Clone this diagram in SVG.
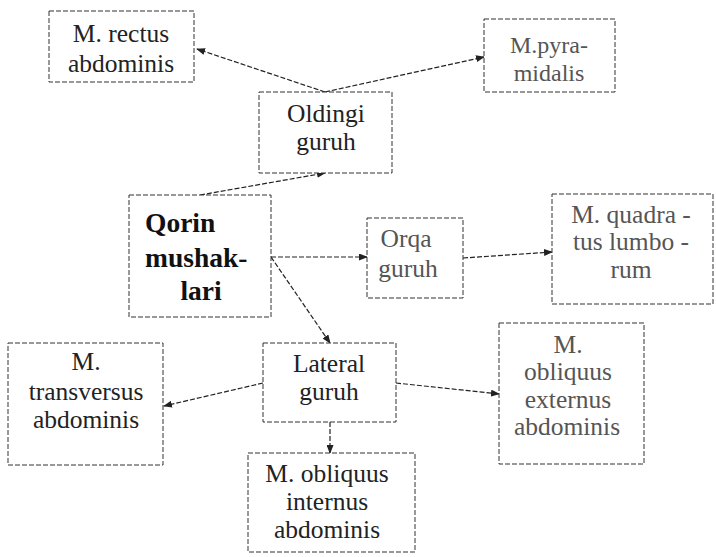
<svg xmlns="http://www.w3.org/2000/svg" width="716" height="557" viewBox="0 0 716 557" font-family="'Liberation Serif', 'DejaVu Serif', serif">
<style>
.box{fill:#fff;stroke:#333;stroke-width:1;stroke-dasharray:5 2}
text{font-family:'Liberation Serif','DejaVu Serif',serif;font-size:25.5px;fill:#222;text-anchor:middle}
.f{fill:#555}
.b{font-weight:bold;font-size:27.5px;fill:#111}
.c{stroke:#222;stroke-width:1.2;stroke-dasharray:5 2;fill:none;marker-end:url(#ah)}
</style>
<defs>
<marker id="ah" markerWidth="9" markerHeight="7" refX="8" refY="3.5" orient="auto" markerUnits="userSpaceOnUse">
<path d="M0,0 L9,3.5 L0,7 Z" fill="#222"/>
</marker>
</defs>
<rect width="716" height="557" fill="#fff"/>
<g id="connectors">
<line class="c" x1="325" y1="92" x2="197" y2="49"/>
<line class="c" x1="325" y1="92" x2="484" y2="57"/>
<line class="c" x1="200" y1="195" x2="325" y2="173"/>
<line class="c" x1="271" y1="257" x2="367" y2="257"/>
<line class="c" x1="271" y1="257" x2="330" y2="343"/>
<line class="c" x1="463" y1="258" x2="552" y2="252"/>
<line class="c" x1="263" y1="383" x2="164" y2="406"/>
<line class="c" x1="330" y1="422" x2="330" y2="453"/>
<line class="c" x1="396" y1="383" x2="499" y2="394"/>
</g>
<g id="rectus">
<rect class="box" x="49" y="11" width="145" height="71"/>
<text x="121" y="42">M. rectus</text>
<text x="121" y="72">abdominis</text>
</g>
<g id="pyramidalis">
<rect class="box" x="484" y="19" width="131" height="73"/>
<text class="f" x="549" y="53" style="font-size:24px">M.pyra-</text>
<text class="f" x="549" y="81" style="font-size:24px">midalis</text>
</g>
<g id="oldingi">
<rect class="box" x="259" y="92" width="133" height="81"/>
<text x="326" y="122">Oldingi</text>
<text x="326" y="150">guruh</text>
</g>
<g id="qorin">
<rect class="box" x="129" y="195" width="142" height="122"/>
<text class="b" x="145" y="232" style="text-anchor:start">Qorin</text>
<text class="b" x="145" y="267" style="text-anchor:start">mushak-</text>
<text class="b" x="201" y="300">lari</text>
</g>
<g id="orqa">
<rect class="box" x="367" y="218" width="96" height="80"/>
<text class="f" x="406" y="247">Orqa</text>
<text class="f" x="408" y="277">guruh</text>
</g>
<g id="quadratus">
<rect class="box" x="552" y="194" width="161" height="110"/>
<text class="f" x="631" y="223">M. quadra -</text>
<text class="f" x="631" y="250">tus lumbo -</text>
<text class="f" x="631" y="278">rum</text>
</g>
<g id="lateral">
<rect class="box" x="263" y="343" width="133" height="79"/>
<text x="329" y="372">Lateral</text>
<text x="329" y="400">guruh</text>
</g>
<g id="transversus">
<rect class="box" x="8" y="343" width="155" height="122"/>
<text x="86" y="370">M.</text>
<text x="86" y="400">transversus</text>
<text x="86" y="428">abdominis</text>
</g>
<g id="externus">
<rect class="box" x="499" y="323" width="145" height="141"/>
<text class="f" x="568" y="353">M.</text>
<text class="f" x="568" y="380">obliquus</text>
<text class="f" x="568" y="408">externus</text>
<text class="f" x="567" y="435">abdominis</text>
</g>
<g id="internus">
<rect class="box" x="248" y="453" width="167" height="99"/>
<text x="327" y="482">M. obliquus</text>
<text x="327" y="510">internus</text>
<text x="327" y="538">abdominis</text>
</g>
</svg>
